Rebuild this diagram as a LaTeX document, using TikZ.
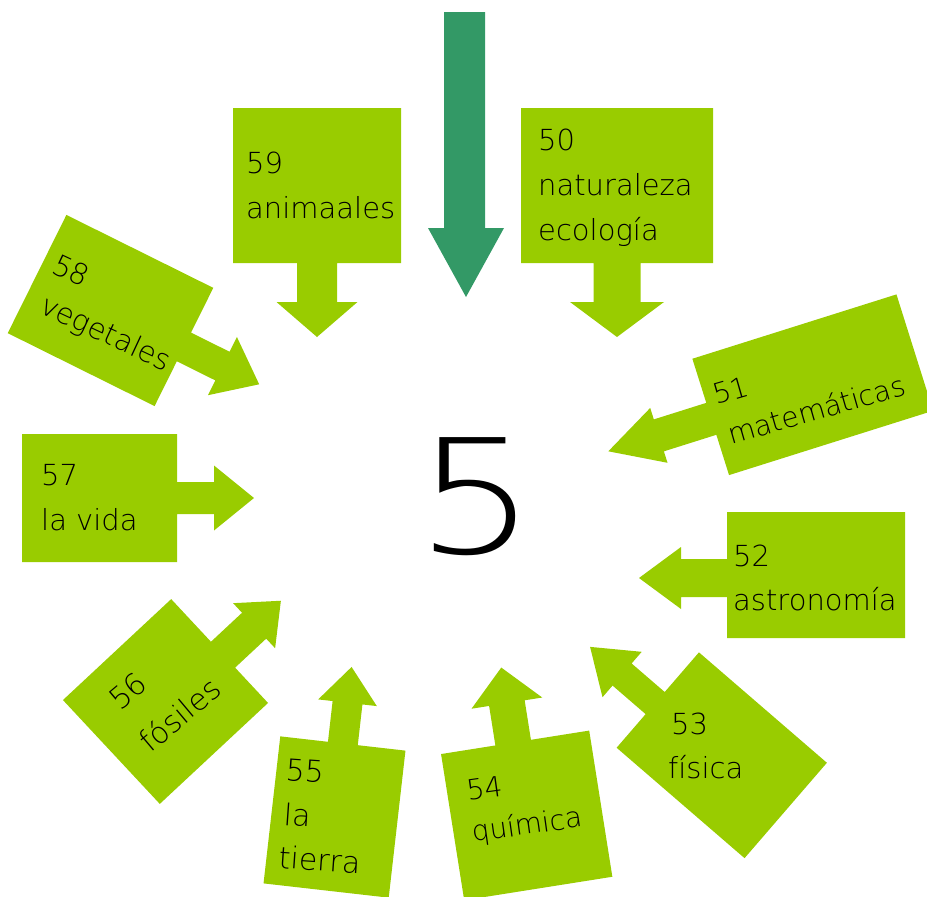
\documentclass[tikz,border=0pt]{standalone}
\usepackage{fontspec}
\setmainfont{DejaVu Sans}
\IfFontExistsTF{DejaVu Sans ExtraLight}{\newfontfamily\thinfont{DejaVu Sans ExtraLight}}{\newfontfamily\thinfont{DejaVu Sans}}
\definecolor{boxgreen}{HTML}{99CC00}
\definecolor{darkgreen}{HTML}{339966}
% #1 centre, #2 angle, #3 W (along arrow), #4 H, #5 shaft length, #6 shaft half width, #7 head half width, #8 head length, #9 offset
\newcommand\callout[9]{%
  \begin{scope}[shift={(#1)}, rotate=#2]
    \fill[boxgreen] ({-#3/2},{-#4/2}) -- ({#3/2},{-#4/2}) -- ({#3/2},{#9-#6})
      -- ({#3/2+#5},{#9-#6}) -- ({#3/2+#5},{#9-#7}) -- ({#3/2+#5+#8},{#9})
      -- ({#3/2+#5},{#9+#7}) -- ({#3/2+#5},{#9+#6}) -- ({#3/2},{#9+#6})
      -- ({#3/2},{#4/2}) -- ({-#3/2},{#4/2}) -- cycle;
  \end{scope}}
\tikzset{
  lbl/.style={anchor=base west, inner sep=0pt, font=\thinfont\fontsize{29}{35}\selectfont},
  hand/.style={anchor=base west, inner sep=0pt, font=\thinfont\fontsize{#1}{32}\selectfont},
  hand/.default=30,
}
\begin{document}
\begin{tikzpicture}[x=1pt,y=-1pt]
\useasboundingbox (0,0) rectangle (927,897);
\clip (0,0) rectangle (927,897);
% central dark arrow
\fill[darkgreen] (444,12) -- (485,12) -- (485,228) -- (504,228) -- (466,297) -- (428,228) -- (444,228) -- cycle;
% callouts
\callout{317,185.5}{-90}{155}{168}{39}{20}{40.5}{35}{0}
\callout{617,185.5}{-90}{155}{192}{39}{23.5}{47}{35}{0}
\callout{812.75,384.75}{197.5}{214}{122}{55}{16.75}{28.75}{53}{-2}
\callout{816,575}{180}{178}{126}{46}{19}{31}{42}{-3}
\callout{721.75,755.25}{139.2}{169}{126}{43.7}{14.6}{30}{42.3}{-4}
\callout{526.7,815.4}{99}{148}{150}{40}{18}{35.8}{36}{-2}
\callout{334.5,817}{83.5}{148}{126}{41}{15}{29.5}{36}{0}
\callout{165.5,701.5}{43}{148}{142}{42.5}{17.7}{30.8}{36.6}{5}
\callout{99.5,498}{0}{155}{128}{37}{16}{32.5}{40}{0}
\callout{110.5,310.5}{-26.4}{164}{132}{43}{16}{32.5}{41}{0}
% centre
\node[anchor=base, inner sep=0pt, font=\thinfont\fontsize{159}{160}\selectfont] (c) at (476,553) {\scalebox{1.2}[1]{5}};
% straight labels
\node[lbl] (t59a) at (246,173) {59};
\node[lbl] (t59b) at (246,218) {animaales};
\node[lbl] (t50a) at (538,150) {50};
\node[lbl] (t50b) at (538,195) {naturaleza};
\node[lbl] (t50c) at (538,240) {ecología};
\node[lbl] (t57a) at (41,485) {57};
\node[lbl] (t57b) at (41,530) {la vida};
\node[lbl] (t52a) at (733,566) {52};
\node[lbl] (t52b) at (733,610) {astronomía};
\node[lbl] (t53a) at (671,734) {53};
\node[lbl] (t53b) at (668,778) {física};
% rotated labels
\node[hand=29, rotate=-25] (t58a) at (50,272) {58};
\node[hand=29, rotate=-25] (t58b) at (38,312) {vegetales};
\node[hand=28, rotate=16] (t51a) at (716,405) {51};
\node[hand=28, rotate=16] (t51b) at (731,445) {matemáticas};
\node[hand=30, rotate=40] (t56a) at (120,712) {56};
\node[hand=30, rotate=40] (t56b) at (150,754) {fósiles};
\node[hand, rotate=-4] (t55a) at (285,780) {55};
\node[hand, rotate=-4] (t55b) at (283,825) {la};
\node[hand, rotate=-4] (t55c) at (278,868) {tierra};
\node[hand=28, rotate=8] (t54a) at (468,801) {54};
\node[hand=28, rotate=8] (t54b) at (473,842) {química};
\end{tikzpicture}
\end{document}
